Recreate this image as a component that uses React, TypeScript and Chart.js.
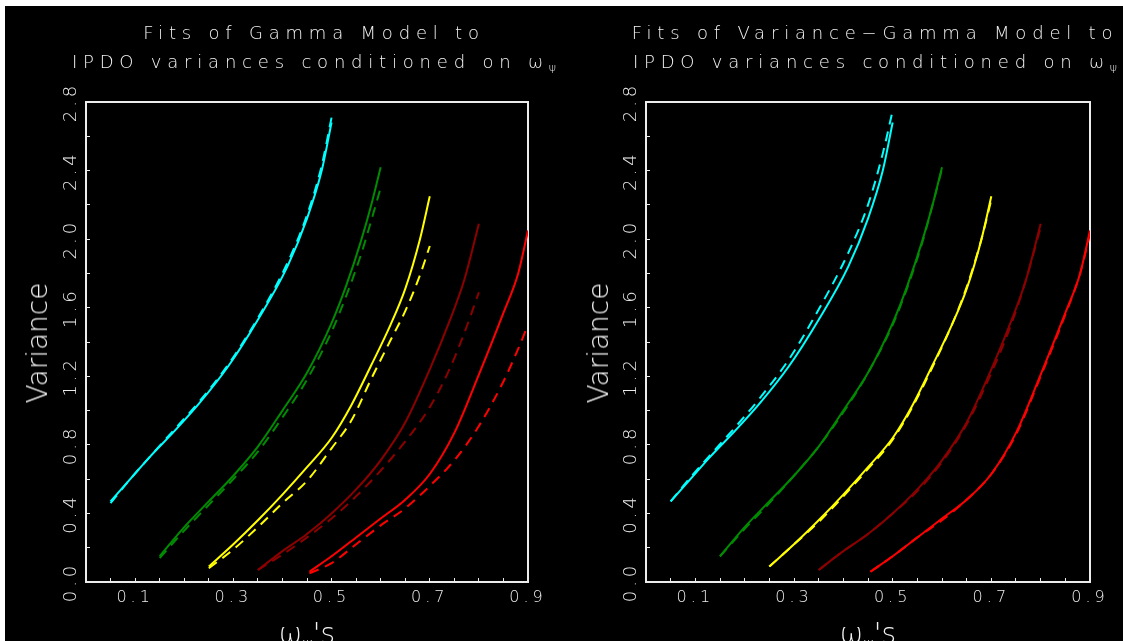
import React, { useEffect, useRef } from 'react';
import { Chart, registerables } from 'chart.js';

Chart.register(...registerables);

// ---------- tick labels ----------
const xTickLabels = ['0.1', '0.3', '0.5', '0.7', '0.9'];
const yTickLabels = ['0.0', '0.4', '0.8', '1.2', '1.6', '2.0', '2.4', '2.8'];

// ---------- data: omega_psi grid per curve, observed variance, Gamma fit, Variance-Gamma fit ----------
const cyanX = [0.05, 0.09, 0.13, 0.18, 0.23, 0.29, 0.35, 0.41, 0.45, 0.48, 0.5];
const cyanObs = [0.47, 0.6, 0.73, 0.88, 1.04, 1.26, 1.53, 1.84, 2.12, 2.4, 2.68];
const cyanGamma = [0.46, 0.6, 0.73, 0.89, 1.05, 1.27, 1.54, 1.86, 2.14, 2.43, 2.71];
const cyanVG = [0.47, 0.61, 0.74, 0.9, 1.07, 1.3, 1.59, 1.92, 2.2, 2.5, 2.75];

const greenX = [0.15, 0.2, 0.25, 0.3, 0.35, 0.4, 0.45, 0.5, 0.53, 0.56, 0.58, 0.6];
const greenObs = [0.15, 0.32, 0.47, 0.62, 0.79, 1.0, 1.22, 1.51, 1.73, 1.99, 2.19, 2.42];
const greenGamma = [0.14, 0.3, 0.45, 0.6, 0.76, 0.96, 1.18, 1.46, 1.67, 1.91, 2.1, 2.3];
const greenVG = [0.15, 0.31, 0.46, 0.62, 0.79, 0.99, 1.22, 1.5, 1.72, 1.98, 2.19, 2.41];

const yellowX = [0.25, 0.3, 0.35, 0.4, 0.45, 0.5, 0.54, 0.58, 0.62, 0.65, 0.68, 0.7];
const yellowObs = [0.09, 0.22, 0.36, 0.51, 0.67, 0.84, 1.03, 1.26, 1.5, 1.71, 2.0, 2.25];
const yellowGamma = [0.08, 0.19, 0.32, 0.46, 0.59, 0.78, 0.94, 1.18, 1.41, 1.58, 1.79, 1.96];
const yellowVG = [0.09, 0.22, 0.35, 0.5, 0.66, 0.83, 1.02, 1.25, 1.5, 1.72, 2.0, 2.23];

const darkRedX = [0.35, 0.4, 0.45, 0.5, 0.55, 0.6, 0.65, 0.7, 0.74, 0.77, 0.8];
const darkRedObs = [0.07, 0.18, 0.28, 0.4, 0.54, 0.71, 0.93, 1.24, 1.52, 1.76, 2.09];
const darkRedGamma = [0.07, 0.16, 0.26, 0.37, 0.5, 0.65, 0.82, 1.02, 1.24, 1.45, 1.69];
const darkRedVG = [0.07, 0.18, 0.28, 0.4, 0.53, 0.7, 0.92, 1.22, 1.5, 1.76, 2.07];

const redX = [0.455, 0.5, 0.55, 0.6, 0.65, 0.7, 0.75, 0.8, 0.85, 0.88, 0.9];
const redObs = [0.06, 0.15, 0.26, 0.37, 0.48, 0.63, 0.87, 1.21, 1.57, 1.8, 2.05];
const redGamma = [0.05, 0.11, 0.22, 0.33, 0.43, 0.56, 0.71, 0.91, 1.17, 1.36, 1.5];
const redVG = [0.06, 0.15, 0.26, 0.36, 0.48, 0.63, 0.86, 1.2, 1.56, 1.8, 2.03];

const curves = [
  { color: '#00ffff', x: cyanX, obs: cyanObs, gamma: cyanGamma, vg: cyanVG },
  { color: '#008c00', x: greenX, obs: greenObs, gamma: greenGamma, vg: greenVG },
  { color: '#ffff00', x: yellowX, obs: yellowObs, gamma: yellowGamma, vg: yellowVG },
  { color: '#8c0000', x: darkRedX, obs: darkRedObs, gamma: darkRedGamma, vg: darkRedVG },
  { color: '#ff0000', x: redX, obs: redObs, gamma: redGamma, vg: redVG },
];

const AXIS = '#ececec';
const FONT = "'DejaVu Sans', sans-serif";

const zip = (xs: number[], ys: number[]) => xs.map((x, i) => ({ x, y: ys[i] }));

const framePlugin = {
  id: 'frame',
  beforeDatasetsDraw(chart: any) {
    const { ctx, chartArea } = chart;
    ctx.save();
    ctx.strokeStyle = AXIS;
    ctx.lineWidth = 2;
    ctx.strokeRect(chartArea.left, chartArea.top, chartArea.right - chartArea.left, chartArea.bottom - chartArea.top);
    ctx.restore();
  },
};

const spacingPlugin = {
  id: 'spacing',
  beforeDraw(chart: any) {
    (chart.ctx as any).letterSpacing = '4px';
  },
  afterDraw(chart: any) {
    (chart.ctx as any).letterSpacing = '0px';
  },
};

function makeConfig(model: 'gamma' | 'vg', rightPad: number): any {
  const datasets: any[] = [];
  curves.forEach((c) => {
    datasets.push({
      data: zip(c.x, model === 'gamma' ? c.gamma : c.vg),
      borderColor: c.color,
      borderWidth: 2,
      borderDash: [10, 7],
      showLine: true,
      pointRadius: 0,
      cubicInterpolationMode: 'monotone',
    });
    datasets.push({
      data: zip(c.x, c.obs),
      borderColor: c.color,
      borderWidth: 2,
      showLine: true,
      pointRadius: 0,
      cubicInterpolationMode: 'monotone',
    });
  });
  return {
    type: 'scatter',
    data: { datasets },
    options: {
      animation: false,
      responsive: false,
      maintainAspectRatio: false,
      events: [],
      layout: { padding: { left: 0, right: rightPad, top: 102, bottom: 0 } },
      plugins: { legend: { display: false }, tooltip: { enabled: false }, title: { display: false } },
      scales: {
        x: {
          type: 'linear',
          min: 0,
          max: 0.9,
          afterFit: (s: any) => {
            s.height = 59;
          },
          border: { display: true, color: AXIS, width: 2 },
          grid: { display: true, drawOnChartArea: false, drawTicks: true, tickLength: -4, color: AXIS, lineWidth: 1 },
          ticks: {
            stepSize: 0.05,
            autoSkip: false,
            maxRotation: 0,
            minRotation: 0,
            padding: 10,
            color: AXIS,
            font: { family: FONT, size: 16, weight: 200 },
            callback: (v: any) => {
              const k = Math.round(Number(v) * 100);
              if (k % 10 !== 0) return '';
              const s = (k / 100).toFixed(1);
              return xTickLabels.includes(s) ? s : '';
            },
          },
        },
        y: {
          type: 'linear',
          min: 0,
          max: 2.8,
          afterFit: (s: any) => {
            s.width = 86;
          },
          border: { display: true, color: AXIS, width: 2 },
          grid: { display: true, drawOnChartArea: false, drawTicks: true, tickLength: -4, color: AXIS, lineWidth: 1 },
          ticks: {
            stepSize: 0.2,
            autoSkip: false,
            minRotation: 90,
            maxRotation: 90,
            crossAlign: 'center',
            padding: 4,
            color: AXIS,
            font: { family: FONT, size: 18, weight: 200 },
            callback: (v: any) => {
              const k = Math.round(Number(v) * 10);
              const s = (k / 10).toFixed(1);
              return k % 4 === 0 && yTickLabels.includes(s) ? s : '';
            },
          },
        },
      },
    },
    plugins: [framePlugin, spacingPlugin],
  };
}

function Panel(props: { model: 'gamma' | 'vg'; left: number; width: number; rightPad: number }) {
  const ref = useRef<HTMLCanvasElement | null>(null);
  useEffect(() => {
    if (!ref.current) return;
    const chart = new Chart(ref.current, makeConfig(props.model, props.rightPad));
    return () => chart.destroy();
  }, []);
  return (
    <canvas
      ref={ref}
      width={props.width}
      height={641}
      style={{ position: 'absolute', left: props.left, top: 0, width: props.width, height: 641, display: 'block' }}
    />
  );
}

const textBase: React.CSSProperties = {
  position: 'absolute',
  color: '#f2f2f2',
  fontFamily: FONT,
  fontWeight: 200,
  whiteSpace: 'nowrap',
};

function Titles(props: { cx: number; line1: string }) {
  const { cx, line1 } = props;
  return (
    <>
      <div
        style={{
          ...textBase,
          left: cx - 300,
          width: 600,
          top: 18,
          fontSize: 18,
          lineHeight: '29px',
          letterSpacing: '5.8px',
          textAlign: 'center',
        }}
      >
        <div>{line1}</div>
        <div>
          IPDO variances conditioned on ω<sub style={{ fontSize: 11, verticalAlign: '-3px', letterSpacing: 0 }}>ψ</sub>
        </div>
      </div>
      <div
        style={{
          ...textBase,
          left: cx - 276,
          top: 343,
          fontSize: 28,
          lineHeight: '28px',
          transform: 'translate(-50%, -50%) rotate(-90deg)',
        }}
      >
        Variance
      </div>
      <div
        style={{
          ...textBase,
          left: cx - 7,
          top: 620,
          fontSize: 28,
          lineHeight: '28px',
          transform: 'translateX(-50%)',
        }}
      >
        ω<sub style={{ fontSize: 16, verticalAlign: '-6px' }}>ψ</sub>'s
      </div>
    </>
  );
}

export default function App() {
  return (
    <div style={{ position: 'fixed', left: 0, top: 0, width: 1123, height: 641, background: '#ffffff', overflow: 'hidden' }}>
      <div style={{ position: 'absolute', left: 5, top: 6, right: 0, bottom: 0, background: '#000000' }} />
      <Panel model="gamma" left={0} width={560} rightPad={32} />
      <Panel model="vg" left={560} width={563} rightPad={33} />
      <Titles cx={314} line1="Fits of Gamma Model to" />
      <Titles cx={875} line1="Fits of Variance−Gamma Model to" />
    </div>
  );
}
